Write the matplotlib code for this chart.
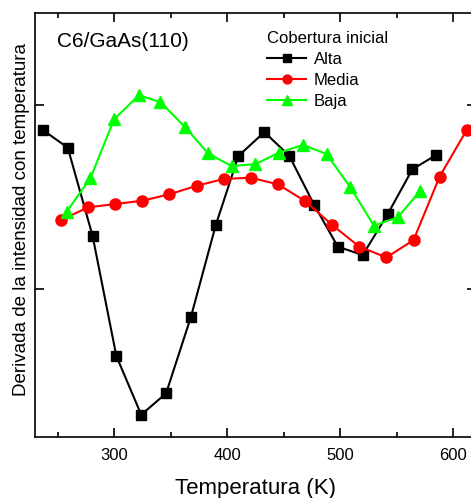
import numpy as np
import matplotlib
matplotlib.use("Agg")
from matplotlib import pyplot as plt
from matplotlib.ticker import MultipleLocator

plt.rcParams['font.family'] = ['Liberation Sans', 'DejaVu Sans']

# Alta (high initial coverage)
t_alta = [237, 259, 281, 302, 324, 346, 368, 390, 410, 433, 455, 477, 498, 520, 542, 564, 585]
d_alta = [0.864, 0.768, 0.288, -0.364, -0.683, -0.567, -0.151, 0.348, 0.723, 0.853,
          0.724, 0.458, 0.230, 0.185, 0.406, 0.651, 0.728]

# Media
t_media = [253, 277, 301, 325, 349, 373, 397, 421, 445, 469, 493, 517, 541, 565, 588, 612]
d_media = [0.375, 0.444, 0.462, 0.480, 0.515, 0.561, 0.598, 0.605, 0.569, 0.478,
           0.348, 0.230, 0.172, 0.266, 0.610, 0.864]

# Baja
t_baja = [258, 279, 300, 322, 341, 363, 383, 404, 425, 446, 467, 488, 509, 530, 551, 571]
d_baja = [0.420, 0.602, 0.922, 1.054, 1.015, 0.879, 0.738, 0.668, 0.679, 0.741,
          0.783, 0.734, 0.553, 0.344, 0.390, 0.534]

fig = plt.figure(figsize=(4.71, 4.98), dpi=100)
ax = fig.add_axes([0.0743, 0.1225, 0.9357, 0.8514])

ax.plot(t_alta, d_alta, '-s', color='black', lw=1.5, ms=7, label='Alta')
ax.plot(t_media, d_media, '-o', color='red', lw=1.5, ms=8, label='Media')
ax.plot(t_baja, d_baja, '-^', color='#00ff00', lw=1.5, ms=8.5, label='Baja')

ax.set_xlim(230, 620)
ax.set_ylim(-0.804, 1.5)
ax.xaxis.set_major_locator(MultipleLocator(100))
ax.xaxis.set_minor_locator(MultipleLocator(50))
ax.yaxis.set_major_locator(MultipleLocator(1))
ax.set_yticklabels([])
ax.tick_params(which='both', direction='in', top=True, right=True, width=1.2)
ax.tick_params(which='major', length=6.5, labelsize=12, pad=8)
ax.tick_params(which='minor', length=3.5)
for s in ax.spines.values():
    s.set_linewidth(1.2)

ax.set_xlabel('Temperatura (K)', fontsize=16, labelpad=11)
ax.set_ylabel('Derivada de la intensidad con temperatura', fontsize=13.5)
ax.yaxis.set_label_coords(-0.011, 0.512)

ax.text(0.05, 0.955, 'C6/GaAs(110)', transform=ax.transAxes, fontsize=15,
        va='top', ha='left')

leg = ax.legend(title='Cobertura inicial', loc='upper left',
                bbox_to_anchor=(259 / 471, 1 - 23 / 498),
                bbox_transform=fig.transFigure, frameon=False,
                fontsize=12, title_fontsize=12, handlelength=2.3,
                handletextpad=0.5, labelspacing=0.36, borderpad=0,
                markerscale=0.8, alignment='left')

fig.savefig('out.png', dpi=100)
